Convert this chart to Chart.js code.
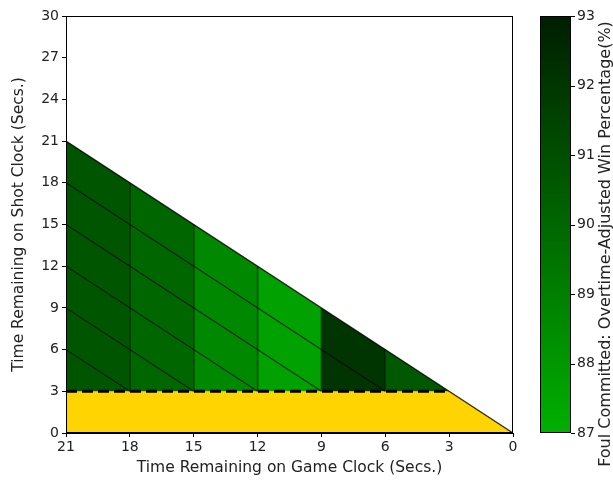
<!DOCTYPE html>
<html>
<head>
<meta charset="utf-8">
<script src="https://cdn.jsdelivr.net/npm/chart.js@4/dist/chart.umd.min.js"></script>
<style>
  html, body { margin: 0; padding: 0; background: #fff; }
  #wrap { width: 613px; height: 481px; }
</style>
</head>
<body>
<div id="wrap"><canvas id="foulChart" width="613" height="481"></canvas></div>
<script>
// Game clock column starts (each column spans 3 secs) and win % per column
const gameClock = [21, 18, 15, 12, 9, 6];
const winPct = [90.7, 90.0, 88.6, 87.6, 92.1, 90.6];
// Shot clock threshold (dashed line / yellow zone)
const shotFloor = 3;
// Colorbar range and ticks
const cbTicks = [87, 88, 89, 90, 91, 92, 93];
const cbMin = 87, cbMax = 93;

const FONT = "'DejaVu Sans', sans-serif";

function greenFor(v) {
    const t = (v - cbMin) / (cbMax - cbMin);
    const g = Math.round(176 - t * (176 - 30));
    return 'rgb(0,' + g + ',0)';
}

const datasets = [];

// yellow zone below the shot clock threshold
datasets.push({
    data: [{x: 21, y: shotFloor}, {x: shotFloor, y: shotFloor}, {x: 0, y: 0}],
    backgroundColor: '#ffd400',
    borderWidth: 0,
    fill: 'origin',
    order: 10
});

// column fills
gameClock.forEach((g, i) => {
    datasets.push({
        data: [{x: g, y: g}, {x: g - 3, y: g - 3}],
        backgroundColor: greenFor(winPct[i]),
        borderColor: greenFor(winPct[i]),
        borderWidth: 0,
        fill: {value: shotFloor},
        order: 9
    });
});

// vertical column edges
gameClock.slice(1).forEach(g => {
    datasets.push({
        data: [{x: g, y: shotFloor}, {x: g, y: g}],
        borderColor: 'rgba(0,0,0,0.75)',
        borderWidth: 1.4,
        fill: false,
        order: 3
    });
});

// diagonal cell edges (shot clock = game clock - 3k)
for (let k = 1; k <= 5; k++) {
    datasets.push({
        data: [{x: 21, y: 21 - 3 * k}, {x: shotFloor + 3 * k, y: shotFloor}],
        borderColor: 'rgba(0,0,0,0.7)',
        borderWidth: 1.1,
        fill: false,
        order: 3
    });
}

// outer diagonal
datasets.push({
    data: [{x: 21, y: 21}, {x: 0, y: 0}],
    borderColor: 'rgba(0,0,0,0.8)',
    borderWidth: 1.3,
    fill: false,
    order: 2
});

// dashed threshold
datasets.push({
    data: [{x: 21, y: shotFloor}, {x: shotFloor, y: shotFloor}],
    borderColor: '#000',
    borderWidth: 3,
    borderDash: [11, 5],
    fill: false,
    order: 1
});

const frameAndColorbar = {
    id: 'frameAndColorbar',
    afterDraw(chart) {
        const ctx = chart.ctx;
        const a = chart.chartArea;
        ctx.save();
        // plot frame
        ctx.strokeStyle = '#000';
        ctx.lineWidth = 1;
        ctx.strokeRect(a.left + 0.5, a.top + 0.5, a.right - a.left - 1, a.bottom - a.top - 1);

        // colorbar
        const x0 = 540, w = 31;
        const top = a.top, bot = a.bottom;
        const grad = ctx.createLinearGradient(0, bot, 0, top);
        grad.addColorStop(0, greenFor(cbMin));
        grad.addColorStop(1, greenFor(cbMax));
        ctx.fillStyle = grad;
        ctx.fillRect(x0, top, w, bot - top);
        ctx.strokeRect(x0 + 0.5, top + 0.5, w - 1, bot - top - 1);

        ctx.fillStyle = '#222';
        ctx.font = '14px ' + FONT;
        ctx.textAlign = 'left';
        ctx.textBaseline = 'middle';
        cbTicks.forEach(v => {
            const y = bot - (v - cbMin) / (cbMax - cbMin) * (bot - top);
            ctx.beginPath();
            ctx.moveTo(x0 + w, Math.round(y) + 0.5);
            ctx.lineTo(x0 + w + 4, Math.round(y) + 0.5);
            ctx.stroke();
            ctx.fillText(String(v), x0 + w + 6, y);
        });

        ctx.translate(606, 244);
        ctx.rotate(-Math.PI / 2);
        ctx.textAlign = 'center';
        ctx.textBaseline = 'middle';
        ctx.font = '16px ' + FONT;
        ctx.fillText('Foul Committed: Overtime-Adjusted Win Percentage(%)', 0, 0);
        ctx.restore();
    }
};

const ctxFoul = document.getElementById('foulChart').getContext('2d');
const foulChart = new Chart(ctxFoul, {
    type: 'line',
    data: { datasets: datasets },
    options: {
        responsive: false,
        animation: false,
        events: [],
        layout: { padding: { top: 16, right: 100, left: 6, bottom: 0 } },
        elements: { point: { radius: 0 }, line: { tension: 0 } },
        plugins: { legend: { display: false }, tooltip: { enabled: false } },
        scales: {
            x: {
                type: 'linear',
                reverse: true,
                min: 0,
                max: 21,
                ticks: { stepSize: 3, color: '#222', font: { family: FONT, size: 14 }, padding: 2 },
                grid: { drawOnChartArea: false, drawTicks: true, tickLength: 4, color: '#000' },
                border: { display: true, color: '#000' },
                title: { display: true, text: 'Time Remaining on Game Clock (Secs.)', color: '#222', font: { family: FONT, size: 15.5 }, padding: { top: 1 } },
                afterFit: s => { s.height = 48; }
            },
            y: {
                type: 'linear',
                min: 0,
                max: 30,
                ticks: { stepSize: 3, color: '#222', font: { family: FONT, size: 14 }, padding: 3 },
                grid: { drawOnChartArea: false, drawTicks: true, tickLength: 4, color: '#000' },
                border: { display: true, color: '#000' },
                title: { display: true, text: 'Time Remaining on Shot Clock (Secs.)', color: '#222', font: { family: FONT, size: 15.5 }, padding: { bottom: 4 } },
                afterFit: s => { s.width = 60; }
            }
        }
    },
    plugins: [frameAndColorbar]
});
</script>
</body>
</html>
